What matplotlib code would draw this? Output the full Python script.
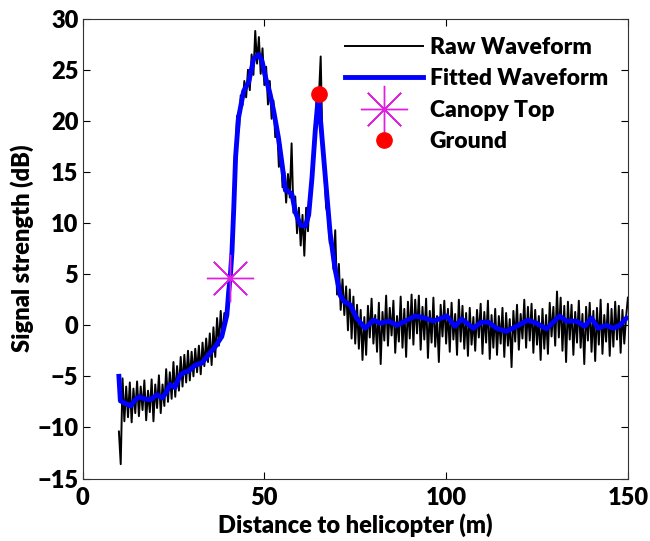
import numpy as np
import matplotlib
matplotlib.use('Agg')
import matplotlib.pyplot as plt


# Raw waveform samples (dB), one every 0.5 m starting at 10 m
raw_start = 10.0
raw_step = 0.5
raw_db = [
    -10.4, -13.6, -5.2, -9.4, -6.0, -9.0, -5.6, -9.5, -6.2, -8.6,
    -5.5, -8.9, -6.0, -8.3, -5.4, -9.3, -6.4, -8.5, -5.3, -9.4,
    -5.8, -8.1, -4.9, -8.6, -5.8, -7.9, -4.3, -7.5, -4.6, -7.2,
    -3.6, -7.0, -4.0, -6.4, -3.1, -6.0, -2.9, -5.6, -2.5, -5.4,
    -2.6, -5.0, -2.3, -4.6, -2.0, -4.8, -1.7, -4.0, -1.3, -3.6,
    -0.8, -3.9, -0.2, -3.1, 0.7, -2.0, 1.4, -1.2, 1.2, 0.5,
    3.0, 4.0, 7.5, 11.0, 16.5, 20.5, 19.0, 22.5, 21.5, 23.9,
    22.3, 25.0, 23.0, 26.5, 24.5, 28.8, 25.6, 28.2, 24.6, 27.1,
    23.5, 25.3, 21.6, 23.9, 20.2, 22.0, 18.4, 19.6, 15.5, 17.6,
    13.5, 15.0, 12.0, 14.8, 12.5, 17.8, 11.0, 12.6, 9.0, 11.5,
    7.8, 10.8, 6.8, 11.5, 9.2, 12.8, 13.0, 17.0, 18.6, 23.0,
    22.3, 26.3, 17.5, 15.0, 11.5, 10.8, 8.0, 8.6, 5.5, 9.3,
    3.0, 6.0, 1.5, 4.5, 1.0, 3.8, -0.5, 3.5, -1.3, 2.8,
    -1.8, 2.0, -2.3, 1.5, -3.4, 0.8, -2.9, 1.9, -1.2, 2.6,
    -1.8, 1.0, -2.6, 2.2, -3.8, 1.3, -1.5, 2.9, -2.0, 1.7,
    -1.0, 2.4, -2.7, 0.9, -1.6, 2.8, -2.2, 1.6, -3.1, 2.3,
    -1.3, 3.0, -1.9, 2.5, -0.8, 2.9, -2.4, 1.8, -1.4, 2.6,
    -3.2, 1.4, -1.7, 2.7, -2.1, 0.9, -3.6, 2.0, -1.1, 2.4,
    -1.8, 1.6, -2.6, 2.2, -1.4, 1.1, -2.9, 2.5, -1.6, 1.9,
    -2.3, 1.2, -3.0, 1.7, -1.9, 0.8, -2.5, 1.5, -1.2, 2.1,
    -2.8, 1.3, -1.7, 2.4, -3.3, 1.0, -2.2, 1.6, -2.9, 0.9,
    -1.8, 1.7, -3.1, 1.2, -2.0, 0.6, -4.1, 1.4, -1.6, 2.0,
    -2.4, 1.1, -1.3, 2.5, -2.2, 1.8, -1.5, 2.1, -2.7, 1.5,
    -1.9, 0.9, -3.4, 1.6, -2.3, 1.0, -2.8, 2.2, -1.1, 1.8,
    -2.0, 3.3, -1.2, 2.7, -2.5, 1.9, -3.6, 2.3, -1.4, 2.0,
    -2.9, 1.3, -1.7, 2.4, -2.2, 1.1, -3.8, 1.8, -1.5, 2.2,
    -2.6, 1.4, -3.5, 1.7, -1.9, 2.5, -2.8, 1.0, -1.6, 2.1,
    -3.0, 1.6, -2.1, 2.3, -1.4, 1.9, -2.7, 1.5, -1.8, 0.8,
    2.7,
]

# Fitted waveform
fit_dist = [
    10.0, 10.4, 11.5, 13.2, 14.5, 15.5, 17.0, 18.7, 20.5, 21.9,
    23.0, 24.0, 25.4, 26.8, 28.0, 29.1, 31.0, 32.8, 34.6, 36.5,
    38.3, 39.7, 40.2, 40.6, 41.1, 41.6, 42.1, 42.9, 44.3, 45.7, 47.1,
    48.5, 49.4, 50.3, 51.6, 52.6, 53.9, 54.9, 55.8, 56.7, 57.6,
    58.5, 59.9, 61.3, 62.2, 63.1, 64.0, 64.8, 65.0, 65.4, 66.8,
    68.1, 69.5, 70.9, 72.0, 73.6, 75.4, 77.7, 80.0, 81.9, 84.2,
    86.5, 88.7, 91.5, 94.2, 96.5, 100.2, 102.4, 104.3, 107.5, 109.7,
    111.6, 113.9, 116.6, 119.4, 122.5, 124.8, 127.6, 131.2, 133.1, 135.8,
    138.1, 140.0, 141.8, 144.1, 145.9, 147.8, 149.6,
]
fit_db = [
    -5.0, -7.4, -7.6, -7.9, -7.3, -7.0, -7.2, -7.3, -6.8, -7.1,
    -6.6, -5.8, -6.1, -4.9, -4.6, -4.5, -3.9, -3.7, -2.9, -2.1,
    -1.1, 1.0, 3.3, 4.6, 7.2, 11.5, 16.5, 20.3, 22.9, 23.8, 26.1,
    26.5, 25.8, 24.3, 22.6, 20.9, 18.3, 15.7, 13.2, 13.1, 12.8,
    11.1, 9.8, 9.7, 10.8, 14.4, 19.0, 22.2, 22.5, 20.3, 14.4,
    9.0, 5.4, 2.9, 2.3, 2.0, 0.7, -0.3, 0.5, 0.2, 0.4,
    0.0, 0.4, 0.9, 0.7, 0.4, 0.9, -0.1, 0.6, -0.3, 0.3,
    0.3, -0.3, -0.6, -0.1, 0.5, 0.2, -0.35, 0.9, 0.4, 0.4,
    -0.1, 0.7, -0.3, 0.0, -0.3, 0.0, 0.7,
]

# Detected canopy top and ground returns
canopy_dist, canopy_db = 40.5, 4.6
ground_dist, ground_db = 65.0, 22.6

raw_dist = raw_start + raw_step * np.arange(len(raw_db))

# Set up the figure
plt.rcParams["font.family"] = "Lato"
plt.rcParams["font.weight"] = "heavy"
plt.rcParams["font.size"] = 17
plt.rcParams["axes.labelweight"] = "heavy"
fig = plt.figure(figsize = (6.5, 5.41), dpi = 100)
ax = fig.add_axes([0.127, 0.1155, 0.839, 0.85])

ax.plot(raw_dist, raw_db, color = 'k', linewidth = 1.4, label = "Raw Waveform")
ax.plot(fit_dist, fit_db, color = 'b', linewidth = 3.5, label = "Fitted Waveform")
ax.plot(canopy_dist, canopy_db, linestyle = 'none', marker = (8, 2, 0),
        markersize = 34, markeredgewidth = 1.0, color = '#e020e0', label = "Canopy Top")
ax.plot(ground_dist, ground_db, linestyle = 'none', marker = 'o',
        markersize = 11, color = 'r', label = "Ground")

ax.legend(loc = 'upper left', bbox_to_anchor = (0.46, 0.985), frameon = False,
          handlelength = 3.4, handletextpad = 0.3, labelspacing = 0.45,
          borderpad = 0, numpoints = 1, fontsize = 16.5)

ax.set_xlim(0, 150)
ax.set_ylim(-15, 30)
ax.set_xticks([0, 50, 100, 150])
ax.set_yticks(np.arange(-15, 31, 5))
ax.tick_params(direction = 'in', top = True, right = True, length = 5, width = 0.8, pad = 3)
ax.tick_params(axis = 'x', pad = 6)
for s in ax.spines.values():
    s.set_color('#333333')
    s.set_linewidth(0.8)

ax.set_xlabel("Distance to helicopter (m)", labelpad = 3)
ax.set_ylabel("Signal strength (dB)", labelpad = 2)

fig.savefig("out.png", dpi = 100)
